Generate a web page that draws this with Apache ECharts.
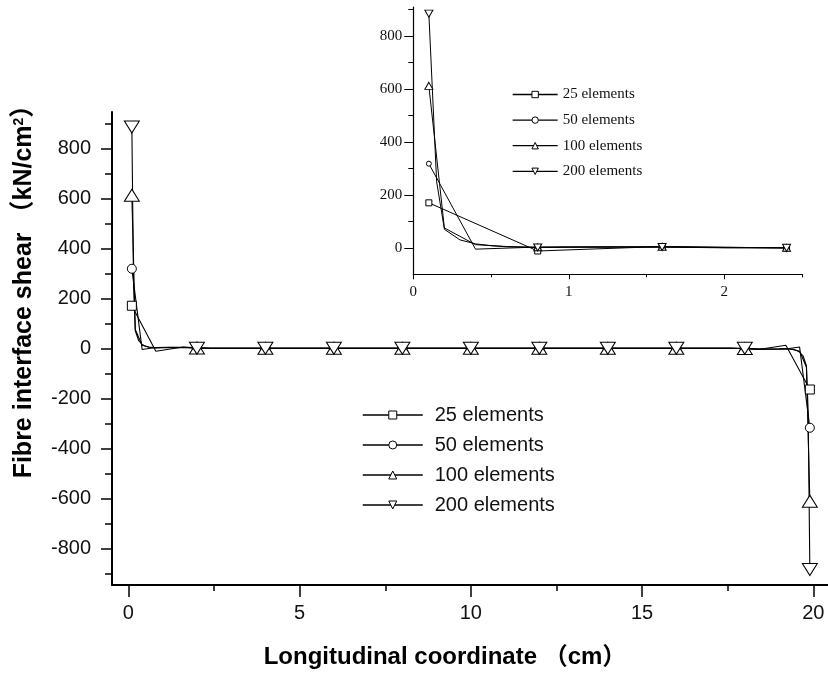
<!DOCTYPE html>
<html>
<head>
<meta charset="utf-8">
<script src="https://cdn.jsdelivr.net/npm/echarts@6/dist/echarts.min.js"></script>
<style>
html,body{margin:0;padding:0;background:#fff;}
#chart{width:828px;height:673px;}
</style>
</head>
<body>
<div id="chart"></div>
<script>
// ---- data ----
const seriesNames = ['25 elements', '50 elements', '100 elements', '200 elements'];

const x25 = [0.1, 0.8, 1.6, 2, 2.4, 4, 6, 8, 10, 12, 14, 16, 17.6, 18, 18.4, 19.2, 19.9];
const y25 = [170, -12, 5, 2, 0, 0, 0, 0, 0, 0, 0, 0, 0, -2, -5, 12, -165];

const x50 = [0.1, 0.4, 0.8, 1.2, 1.6, 2, 2.4, 4, 6, 8, 10, 12, 14, 16, 17.6, 18, 18.4, 18.8, 19.2, 19.6, 19.9];
const y50 = [318, -5, 3, 4, 3, 2, 0, 0, 0, 0, 0, 0, 0, 0, 0, -2, -3, -4, -3, 5, -318];

const x100 = [0.1, 0.2, 0.4, 0.6, 0.8, 1.0, 1.6, 2, 2.4, 4, 6, 8, 10, 12, 14, 16, 17.6, 18, 18.4, 19.0, 19.2, 19.4, 19.6, 19.8, 19.9];
const y100 = [612, 75, 12, 5, 2, 3, 4, 1, 0, 0, 0, 0, 0, 0, 0, 0, 0, -1, -4, -3, -2, -5, -12, -75, -612];

const x200 = [0.1, 0.15, 0.2, 0.3, 0.4, 0.5, 0.6, 0.8, 1.0, 1.6, 2, 2.4, 4, 6, 8, 10, 12, 14, 16, 17.6, 18, 18.4, 19.0, 19.2, 19.4, 19.5, 19.6, 19.7, 19.8, 19.85, 19.9];
const y200 = [885, 250, 70, 30, 15, 8, 4, 1, 2, 3, 0, 0, 0, 0, 0, 0, 0, 0, 0, 0, 0, -3, -2, -1, -4, -8, -15, -30, -70, -250, -885];

// x positions where markers are drawn
const mainMarkX = [0.1, 2, 4, 6, 8, 10, 12, 14, 16, 18, 19.9];
const insetMarkX = [0.1, 0.8, 1.6, 2.4];
const insetMaxX = 2.45;

// tick values
const mainXTicks = [0, 5, 10, 15, 20];
const mainXMinor = [2.5, 7.5, 12.5, 17.5];
const mainYTicks = [-800, -600, -400, -200, 0, 200, 400, 600, 800];
const mainYMinor = [-900, -700, -500, -300, -100, 100, 300, 500, 700, 900];
const insetXTicks = [0, 1, 2];
const insetXMinor = [0.5, 1.5, 2.5];
const insetYTicks = [0, 200, 400, 600, 800];
const insetYMinor = [100, 300, 500, 700, 900];

// ---- styling ----
const FONT = '"Liberation Sans", Arial, "Noto Sans CJK SC", sans-serif';
const SERIF = '"Liberation Serif", "Times New Roman", serif';
const xs = [x25, x50, x100, x200];
const ys = [y25, y50, y100, y200];
const symbols = ['rect', 'circle', 'triangle', 'triangle'];
const rotates = [0, 0, 0, 180];
const mainSizes = [[9, 9], [9, 9], [15, 12], [15, 12]];
const insetSizes = [[6, 6], [5, 5], [8, 7], [8, 7]];

function build(xa, ya, marks, maxX) {
  const out = [];
  for (let i = 0; i < xa.length; i++) {
    if (maxX !== undefined && xa[i] > maxX) continue;
    const show = marks.some(m => Math.abs(m - xa[i]) < 1e-9);
    out.push(show ? { value: [xa[i], ya[i]] } : { value: [xa[i], ya[i]], symbol: 'none' });
  }
  return out;
}

const series = [];
for (let k = 0; k < 4; k++) {
  series.push({
    name: seriesNames[k], type: 'line', xAxisIndex: 0, yAxisIndex: 0,
    data: build(xs[k], ys[k], mainMarkX),
    symbol: symbols[k], symbolRotate: rotates[k], symbolSize: mainSizes[k],
    itemStyle: { color: '#fff', borderColor: '#000', borderWidth: 1 },
    lineStyle: { color: '#000', width: 1.1 },
    emphasis: { disabled: true }
  });
}
for (let k = 0; k < 4; k++) {
  series.push({
    name: seriesNames[k], type: 'line', xAxisIndex: 2, yAxisIndex: 2,
    data: build(xs[k], ys[k], insetMarkX, insetMaxX),
    symbol: symbols[k], symbolRotate: rotates[k], symbolSize: insetSizes[k],
    itemStyle: { color: '#fff', borderColor: '#000', borderWidth: 1 },
    lineStyle: { color: '#000', width: 1 },
    emphasis: { disabled: true }
  });
}

const axisLineMain = { show: true, onZero: false, lineStyle: { color: '#000', width: 2 } };
const axisLineInset = { show: true, onZero: false, lineStyle: { color: '#000', width: 1.2 } };
const noLine = { show: false, onZero: false };

const option = {
  animation: false,
  backgroundColor: '#fff',
  grid: [
    { left: 112, right: 0, top: 112, bottom: 88, outerBoundsMode: 'none', containLabel: false },
    { left: 413.3, right: 25.9, top: 7, bottom: 398.7, outerBoundsMode: 'none', containLabel: false }
  ],
  legend: [
    {
      data: seriesNames, orient: 'vertical', left: 362, top: 405, padding: 0,
      itemWidth: 60, itemHeight: 10, itemGap: 10, selectedMode: false,
      itemStyle: { borderWidth: 1, borderColor: '#000', color: '#fff' },
      lineStyle: { width: 1.5, color: '#000' },
      textStyle: { fontFamily: FONT, fontSize: 20, color: '#111', padding: [0, 0, 0, 7] }
    },
    {
      data: seriesNames, orient: 'vertical', left: 512, top: 87, padding: 0,
      itemWidth: 45, itemHeight: 8, itemGap: 10.6, selectedMode: false,
      itemStyle: { borderWidth: 1, borderColor: '#000', color: '#fff' },
      lineStyle: { width: 1.3, color: '#000' },
      textStyle: { fontFamily: SERIF, fontSize: 15, color: '#111' }
    }
  ],
  xAxis: [
    {
      type: 'value', gridIndex: 0, min: -0.48, max: 20.43, position: 'bottom',
      axisLine: axisLineMain,
      axisTick: { show: true, customValues: mainXTicks, length: 12, lineStyle: { color: '#000', width: 1.5 } },
      axisLabel: { customValues: mainXTicks, fontFamily: FONT, fontSize: 20, color: '#111', margin: 18 },
      splitLine: { show: false },
      name: 'Longitudinal coordinate （cm）', nameLocation: 'middle', nameGap: 60,
      nameTextStyle: { fontFamily: FONT, fontSize: 24, fontWeight: 'bold', color: '#000', padding: [0, 50, 0, 0] }
    },
    {
      type: 'value', gridIndex: 0, min: -0.48, max: 20.43, position: 'bottom',
      axisLine: noLine,
      axisTick: { show: true, customValues: mainXMinor, length: 6, lineStyle: { color: '#000', width: 1.5 } },
      axisLabel: { show: false }, splitLine: { show: false }
    },
    {
      type: 'value', gridIndex: 1, min: 0, max: 2.5, position: 'bottom',
      axisLine: axisLineInset,
      axisTick: { show: true, customValues: insetXTicks, length: 5, lineStyle: { color: '#000', width: 1 } },
      axisLabel: { customValues: insetXTicks, fontFamily: SERIF, fontSize: 15, color: '#111', margin: 10 },
      splitLine: { show: false }
    },
    {
      type: 'value', gridIndex: 1, min: 0, max: 2.5, position: 'bottom',
      axisLine: noLine,
      axisTick: { show: true, customValues: insetXMinor, length: 3, lineStyle: { color: '#000', width: 1 } },
      axisLabel: { show: false }, splitLine: { show: false }
    }
  ],
  yAxis: [
    {
      type: 'value', gridIndex: 0, min: -947, max: 945, position: 'left',
      axisLine: axisLineMain,
      axisTick: { show: true, customValues: mainYTicks, length: 11, lineStyle: { color: '#000', width: 1.5 } },
      axisLabel: { customValues: mainYTicks, fontFamily: FONT, fontSize: 20, color: '#111', margin: 21 },
      splitLine: { show: false },
      name: '{b|Fibre interface shear （kN/cm}{s|2}{b|）}', nameLocation: 'middle', nameGap: 75, nameRotate: 90,
      nameTextStyle: {
        fontFamily: FONT, fontSize: 25, fontWeight: 'bold', color: '#000', padding: [0, 0, 0, 126],
        rich: {
          b: { fontFamily: FONT, fontSize: 25, fontWeight: 'bold', color: '#000' },
          s: { fontFamily: FONT, fontSize: 14, color: '#000', verticalAlign: 'top', padding: [0, 0, 6, 0] }
        }
      }
    },
    {
      type: 'value', gridIndex: 0, min: -947, max: 945, position: 'left', offset: 0,
      axisLine: noLine,
      axisTick: { show: true, customValues: mainYMinor, length: 7, lineStyle: { color: '#000', width: 1.5 } },
      axisLabel: { show: false }, splitLine: { show: false }
    },
    {
      type: 'value', gridIndex: 1, min: -100, max: 910, position: 'left',
      axisLine: axisLineInset,
      axisTick: { show: true, customValues: insetYTicks, length: 9, lineStyle: { color: '#000', width: 1 } },
      axisLabel: { customValues: insetYTicks, fontFamily: SERIF, fontSize: 15, color: '#111', margin: 11 },
      splitLine: { show: false }
    },
    {
      type: 'value', gridIndex: 1, min: -100, max: 910, position: 'left', offset: 0,
      axisLine: noLine,
      axisTick: { show: true, customValues: insetYMinor, length: 5, lineStyle: { color: '#000', width: 1 } },
      axisLabel: { show: false }, splitLine: { show: false }
    }
  ],
  series: series
};

const chart = echarts.init(document.getElementById('chart'), null, { renderer: 'canvas' });
chart.setOption(option);
</script>
</body>
</html>
